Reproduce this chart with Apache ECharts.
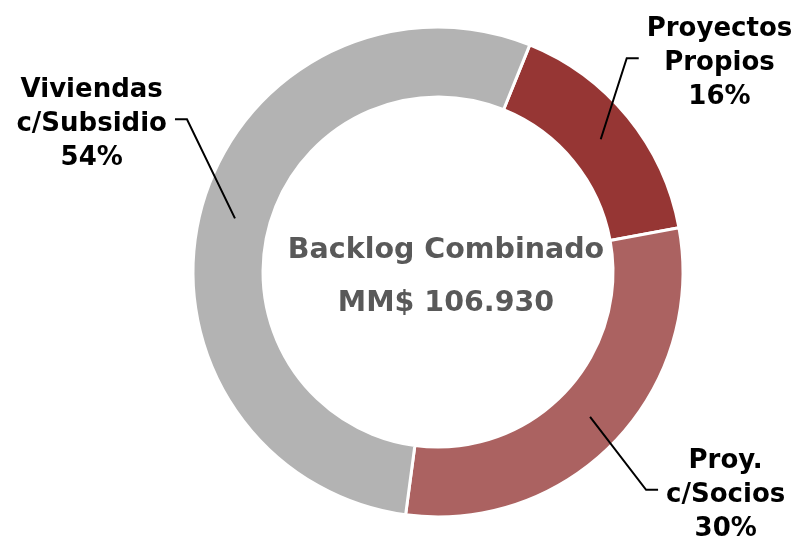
<!DOCTYPE html>
<html>
<head>
<meta charset="utf-8">
<script src="https://cdn.jsdelivr.net/npm/echarts@6/dist/echarts.min.js"></script>
<style>
	html, body { margin: 0; padding: 0; background: #fff; }
	#chart { width: 800px; height: 538px; }
</style>
</head>
<body>
<div id="chart"></div>
<script>
// datos
var categories = ['Proyectos\nPropios', 'Proy.\nc/Socios', 'Viviendas\nc/Subsidio'];
var shares = [16, 30, 54];// %
var centerTitle = 'Backlog Combinado';
var centerValue = 'MM$ 106.930';

var sliceColors = ['#963634', '#AB6261', '#B3B3B3'];
// desplazamiento de las líneas guía [dx1, dy1, dx2]
var leaderOffsets = [[26, -81, 12], [56, 73, 12], [-48, -99, -12]];

var ringData = [];
var labelData = [];
for (var i = 0; i < categories.length; i++) {
	ringData.push({
		name: categories[i],
		value: shares[i],
		itemStyle: {color: sliceColors[i]}
	});
	labelData.push({name: categories[i], value: shares[i]});
}

var labelFont = '"DejaVu Sans", Verdana, sans-serif';

var chart = echarts.init(document.getElementById('chart'));
var option = {
	backgroundColor: '#fff',
	animation: false,
	graphic: [
		{
			type: 'text', x: 446, y: 251, z: 10,
			style: {text: centerTitle, fill: '#595959', font: 'bold 28.5px ' + labelFont, textAlign: 'center', textVerticalAlign: 'middle'}
		},
		{
			type: 'text', x: 446, y: 304, z: 10,
			style: {text: centerValue, fill: '#595959', font: 'bold 28.5px ' + labelFont, textAlign: 'center', textVerticalAlign: 'middle'}
		}
	],
	series: [
		{
			// anillo
			type: 'pie',
			z: 2,
			center: [438, 272],
			radius: [175, 245],
			startAngle: 68,
			clockwise: true,
			silent: true,
			avoidLabelOverlap: false,
			itemStyle: {borderColor: '#fff', borderWidth: 3},
			label: {show: false},
			labelLine: {show: false},
			data: ringData
		},
		{
			// etiquetas (líneas desde el centro del anillo)
			type: 'pie',
			z: 5,
			center: [438, 272],
			radius: [0, 210],
			startAngle: 68,
			clockwise: true,
			silent: true,
			avoidLabelOverlap: false,
			itemStyle: {color: 'rgba(0,0,0,0)', borderWidth: 0},
			label: {
				show: true,
				position: 'outside',
				color: '#000',
				fontFamily: labelFont,
				fontWeight: 'bold',
				fontSize: 26,
				lineHeight: 34,
				align: 'center',
				formatter: function (p) {
					return p.name + '\n' + Math.round(p.percent) + '%';
				}
			},
			labelLine: {show: true, length: 10, length2: 10, lineStyle: {color: '#000', width: 2}},
			labelLayout: function (params) {
				var p0 = params.labelLinePoints[0];
				var o = leaderOffsets[params.dataIndex];
				var p1 = [p0[0] + o[0], p0[1] + o[1]];
				var p2 = [p1[0] + o[2], p1[1]];
				var w = params.labelRect.width;
				var gap = 8;
				var cx = o[2] > 0 ? p2[0] + gap + w / 2 : p2[0] - gap - w / 2;
				return {
					x: cx,
					y: p2[1] + 5,
					align: 'center',
					verticalAlign: 'middle',
					labelLinePoints: [p0, p1, p2]
				};
			},
			data: labelData
		}
	]
};
chart.setOption(option);
</script>
</body>
</html>
